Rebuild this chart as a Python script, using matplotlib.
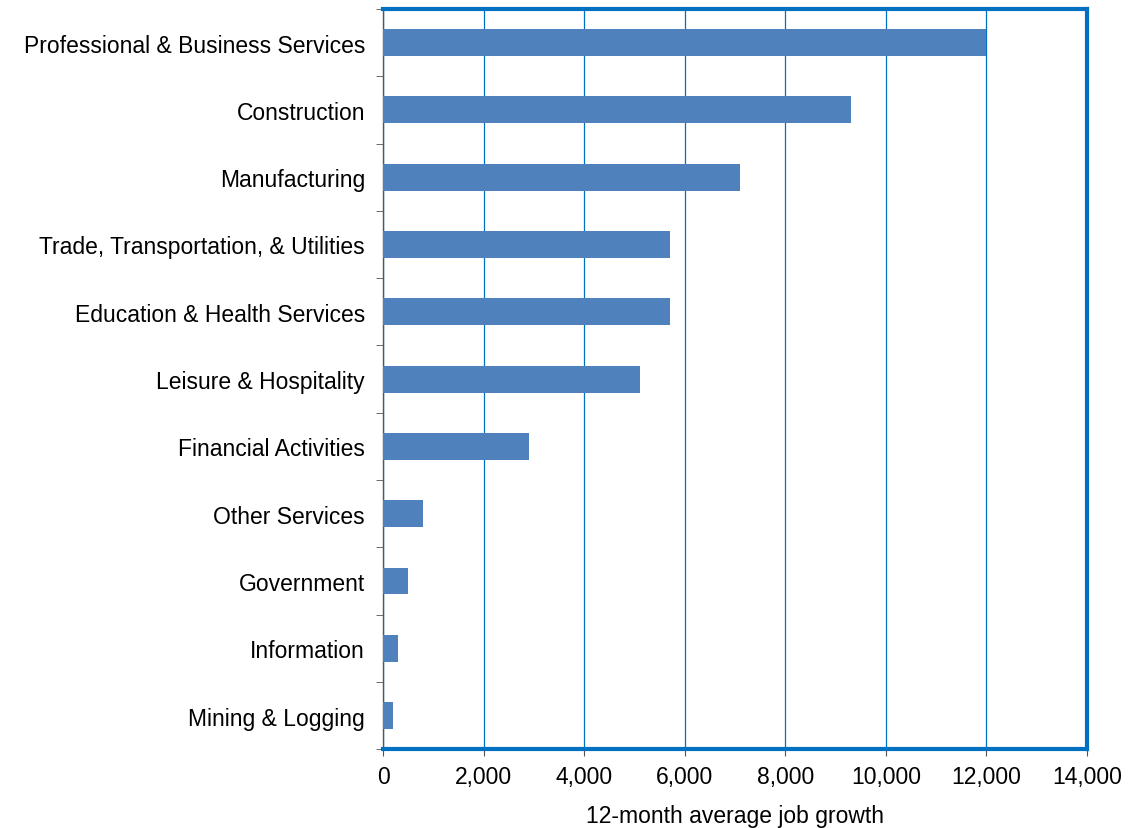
import numpy as np
import matplotlib.pyplot as plt

plt.rcParams["font.family"] = ["Liberation Sans", "DejaVu Sans"]

sectors = ["Professional & Business Services", "Construction", "Manufacturing",
           "Trade, Transportation, & Utilities", "Education & Health Services",
           "Leisure & Hospitality", "Financial Activities", "Other Services",
           "Government", "Information", "Mining & Logging"]
growth = [12000, 9300, 7100, 5700, 5700, 5100, 2900, 800, 500, 300, 200]

fig = plt.figure(figsize=(11.37, 8.29), dpi=100)
ax = fig.add_axes([0.337, 0.095, 0.619, 0.893])

y = np.arange(len(sectors))
ax.barh(y, growth, height=0.4, color="#4F81BD", zorder=3)
ax.set_ylim(len(sectors) - 0.5, -0.5)
ax.set_xlim(0, 14000)
ax.set_xticks(np.arange(0, 14001, 2000))
ax.set_xticklabels([f"{v:,}" for v in range(0, 14001, 2000)])
ax.set_yticks(y)
ax.set_yticklabels(sectors)
ax.set_yticks(np.arange(-0.5, len(sectors), 1), minor=True)
ax.tick_params(axis="y", which="major", length=0, pad=13, labelsize=16.5)
ax.tick_params(axis="y", which="minor", length=5, color="#555555")
ax.tick_params(axis="x", labelsize=16.5, length=5, color="#555555", pad=6)
ax.grid(axis="x", color="#0070C0", linewidth=0.9, zorder=0)

for side in ["top", "right", "bottom"]:
    ax.spines[side].set_color("#0070C0")
    ax.spines[side].set_linewidth(3)
ax.spines["left"].set_color("#555555")
ax.spines["left"].set_linewidth(1)

ax.set_xlabel("12-month average job growth", fontsize=16.5, labelpad=12)

fig.savefig("out.png", dpi=100)
